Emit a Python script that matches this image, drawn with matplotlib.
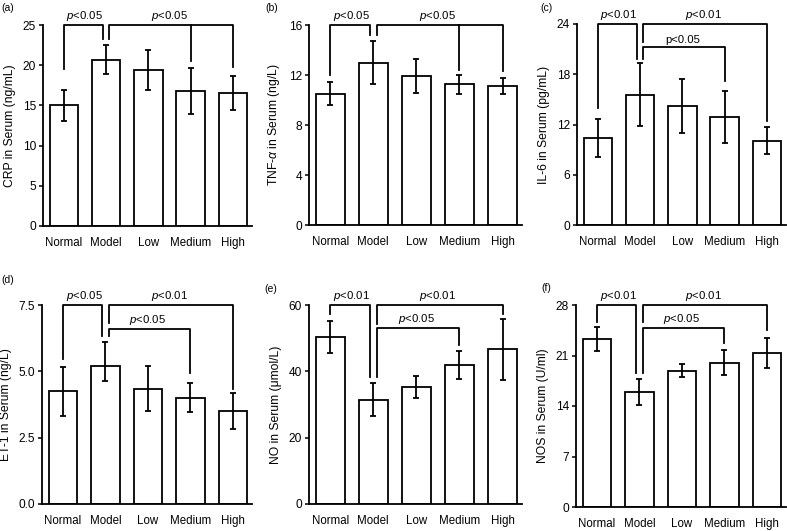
import matplotlib
matplotlib.use("Agg")
import matplotlib.pyplot as plt
from matplotlib.ticker import FormatStrFormatter

plt.rcParams['font.family'] = ['Liberation Sans', 'DejaVu Sans']
plt.rcParams['mathtext.fontset'] = 'custom'
plt.rcParams['mathtext.rm'] = 'Liberation Sans'
plt.rcParams['mathtext.it'] = 'Liberation Sans:italic'

# -------------------------
# Data (mean and error bar half-length)
# -------------------------
groups = ["Normal", "Model", "Low", "Medium", "High"]

crp = [15.0, 20.7, 19.4, 16.8, 16.5]
crp_err = [1.9, 1.85, 2.5, 2.9, 2.1]

tnf = [10.5, 13.0, 11.9, 11.25, 11.1]
tnf_err = [0.93, 1.7, 1.35, 0.77, 0.65]

il6 = [10.4, 15.55, 14.2, 12.95, 10.05]
il6_err = [2.25, 3.75, 3.25, 3.1, 1.6]

et1 = [4.24, 5.21, 4.35, 4.01, 3.51]
et1_err_lo = [0.92, 0.56, 0.86, 0.55, 0.70]
et1_err_hi = [0.92, 0.88, 0.86, 0.56, 0.69]

no = [50.25, 31.4, 35.3, 41.9, 46.7]
no_err = [4.85, 4.95, 3.3, 4.3, 9.2]

nos = [23.3, 15.9, 18.9, 20.0, 21.3]
nos_err = [1.7, 1.8, 0.9, 1.7, 2.1]

# significance brackets: (left group, right group, bracket height,
#   left leg end, right leg end, extra legs [(group, end)], label, italic p)
a_sig = [(0, 1, 25, 19.5, 23.2, [], "<0.05", True),
         (1, 4, 25, 23.2, 19.8, [(3, 20.5)], "<0.05", True)]
b_sig = [(0, 1, 16, 12.0, 15.2, [], "<0.05", True),
         (1, 4, 16, 15.2, 12.3, [(3, 12.4)], "<0.05", True)]
c_sig = [(0, 1, 24, 14.0, 19.8, [], "<0.01", True),
         (1, 4, 24, 21.9, 12.4, [], "<0.01", True),
         (1, 3, 21.25, 19.8, 17.2, [], "<0.05", False)]
d_sig = [(0, 1, 7.5, 5.46, 6.34, [], "<0.05", True),
         (1, 4, 7.5, 6.81, 4.34, [], "<0.01", True),
         (1, 3, 6.59, 6.34, 4.93, [], "<0.05", True)]
e_sig = [(0, 1, 60, 57.2, 38.4, [], "<0.01", True),
         (1, 4, 60, 54.3, 57.2, [], "<0.01", True),
         (1, 3, 53.0, 38.4, 47.9, [], "<0.05", True)]
f_sig = [(0, 1, 28, 25.7, 18.6, [], "<0.01", True),
         (1, 4, 28, 25.7, 24.5, [], "<0.01", True),
         (1, 3, 24.8, 18.6, 22.7, [], "<0.05", True)]

# -------------------------
# Figure
# -------------------------
W, H = 787, 531
fig = plt.figure(figsize=(W / 100, H / 100), dpi=100)
LW = 1.3


def px_axes(left, top, right, bottom):
    return fig.add_axes([left / W, 1 - bottom / H, (right - left) / W, (bottom - top) / H])


def panel(ax, vals, err, ylabel, ymax, step, sigs, fmt=None):
    x = list(range(len(groups)))
    ax.bar(x, vals, width=0.67, color="white", edgecolor="black", linewidth=LW, zorder=2)
    ax.errorbar(x, vals, yerr=err, fmt="none", ecolor="black", elinewidth=LW,
                capsize=2.2, capthick=LW, zorder=3)
    ax.set_xlim(-0.49, 4.45)
    ax.set_ylim(0, ymax)
    ticks = [i * step for i in range(int(round(ymax / step)) + 1)]
    ax.set_yticks(ticks)
    if fmt:
        ax.yaxis.set_major_formatter(FormatStrFormatter(fmt))
    ax.set_xticks(x)
    ax.set_xticklabels(groups)
    ax.tick_params(axis="x", length=0, pad=8, labelsize=8.3)
    ax.tick_params(axis="y", length=3, width=1.1, pad=2, labelsize=8.6)
    ax.set_ylabel(ylabel, fontsize=8.7, labelpad=5)
    for s in ["top", "right"]:
        ax.spines[s].set_visible(False)
    for s in ["left", "bottom"]:
        ax.spines[s].set_linewidth(LW)

    off = 0.08
    for (i, j, y, end_i, end_j, extra, label, italic) in sigs:
        xi = i + off if i == 1 else i
        xj = j - off if j == 1 else j
        ax.plot([xi, xi, xj, xj], [end_i, y, y, end_j], color="black",
                linewidth=LW, clip_on=False, zorder=4)
        for (g, end) in extra:
            ax.plot([g, g], [y, end], color="black", linewidth=LW,
                    clip_on=False, zorder=4)
        txt = ("$p$" if italic else "p") + label
        ax.annotate(txt, xy=((i + j) / 2, y), xytext=(0, 1.5),
                    textcoords="offset points", ha="center", va="bottom",
                    fontsize=8.2, annotation_clip=False)


ax_a = px_axes(43, 25, 252, 226)
panel(ax_a, crp, crp_err, "CRP in Serum (ng/mL)", 25, 5, a_sig)

ax_b = px_axes(309, 25, 522, 225)
panel(ax_b, tnf, tnf_err, r"TNF-$\alpha$ in Serum (ng/L)", 16, 4, b_sig)

ax_c = px_axes(577, 24, 786, 225)
panel(ax_c, il6, il6_err, "IL-6 in Serum (pg/mL)", 24, 6, c_sig)

ax_d = px_axes(42, 305, 252, 504)
panel(ax_d, et1, [et1_err_lo, et1_err_hi], "ET-1 in Serum (ng/L)", 7.5, 2.5, d_sig, fmt="%.1f")

ax_e = px_axes(309, 305, 522, 504)
panel(ax_e, no, no_err, "NO in Serum (\u03bcmol/L)", 60, 20, e_sig)

ax_f = px_axes(576, 305, 786, 507)
panel(ax_f, nos, nos_err, "NOS in Serum (U/ml)", 28, 7, f_sig)

# panel letters
for lab, px, py in [("(a)", 1, 8), ("(b)", 265, 8), ("(c)", 540, 8),
                    ("(d)", 1, 280), ("(e)", 264, 289), ("(f)", 541, 288)]:
    fig.text(px / W, 1 - py / H, lab, fontsize=7.5, va="center", ha="left")

fig.savefig("out.png", dpi=100)
